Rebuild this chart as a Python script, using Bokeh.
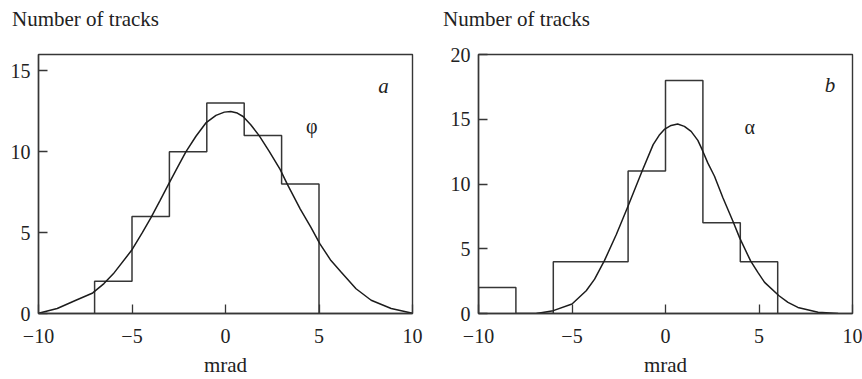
from bokeh.plotting import figure
from bokeh.layouts import row, column
from bokeh.models import Label, FixedTicker, Range1d
from bokeh.embed import file_html
from bokeh.resources import INLINE

# ---------------- data ----------------
x_ticks = [-10, -5, 0, 5, 10]
x_tick_labels = ["\u221210", "\u22125", "0", "5", "10"]

# panel a (phi)
a_y_ticks = [0, 5, 10, 15]
a_edges = [-7, -5, -3, -1, 1, 3, 5]
a_counts = [2, 6, 10, 13, 11, 8]
a_curve_x = [-10, -9, -8, -7.1, -6.5, -6, -5.03, -4.44, -4, -3.51, -3.05, -2.56, -2.12, -1.58,
             -1.05, -0.51, -0.06, 0.28, 0.63, 0.94, 1.35, 1.8, 2.33, 2.92, 3.31, 4.0, 4.57,
             5.05, 5.64, 6.18, 6.98, 7.79, 8.86, 10]
a_curve_y = [0.02, 0.31, 0.82, 1.27, 1.85, 2.45, 3.89, 5.01, 5.89, 6.96, 7.98, 9.04, 9.98, 10.95,
             11.77, 12.24, 12.44, 12.48, 12.38, 12.17, 11.66, 10.99, 10.03, 8.9, 7.98, 6.45, 5.32,
             4.3, 3.27, 2.56, 1.53, 0.82, 0.31, 0.02]

# panel b (alpha)
b_y_ticks = [0, 5, 10, 15, 20]
b_edges = [-10, -8, -6, -4, -2, 0, 2, 4, 6]
b_counts = [2, 0, 4, 4, 11, 18, 7, 4]
b_curve_x = [-6.9, -6, -5, -4.24, -3.79, -3.26, -2.63, -2.27, -2.0, -1.25, -0.66, -0.34, -0.04,
             0.3, 0.65, 1.01, 1.37, 1.73, 1.96, 2.26, 2.62, 3.07, 3.6, 3.96, 4.55, 4.94, 5.3,
             6.07, 6.55, 7.08, 8.16, 9.23]
b_curve_y = [0, 0.22, 0.73, 1.76, 2.65, 4.1, 6.1, 7.35, 8.3, 11.0, 13.04, 13.76, 14.24,
             14.52, 14.63, 14.45, 14.06, 13.37, 12.65, 11.63, 10.6, 8.94, 7.14, 5.86, 4.06, 3.17, 2.4,
             1.37, 0.86, 0.47, 0.09, 0.0]

y_axis_title = "Number of tracks"

FONT = "Liberation Serif"
HIST_COLOR = "#363636"
CURVE_COLOR = "#1c1c1c"
TEXT_COLOR = "#222222"

TOTAL_W = 862
HEAD_H = 42


def step_outline(edges, counts):
    xs, ys = [edges[0]], [0]
    for i, c in enumerate(counts):
        xs += [edges[i], edges[i + 1]]
        ys += [c, c]
    xs.append(edges[-1])
    ys.append(0)
    return xs, ys


def make_panel(width, ymax, yticks, edges, counts, cx, cy, left, right,
               letter, letter_pos, sym, sym_pos):
    p = figure(width=width, height=379 - HEAD_H, x_range=Range1d(-10, 10), y_range=Range1d(0, ymax),
               output_backend="svg", toolbar_location=None,
               min_border_left=left, min_border_right=right,
               min_border_top=12, min_border_bottom=64)
    p.grid.visible = False
    p.background_fill_color = "white"
    p.border_fill_color = "white"
    p.outline_line_color = HIST_COLOR
    p.outline_line_width = 1.4

    for ax in (p.xaxis[0], p.yaxis[0]):
        ax.major_tick_in = 9
        ax.major_tick_out = 0
        ax.minor_tick_line_color = None
        ax.axis_line_color = HIST_COLOR
        ax.axis_line_width = 1.4
        ax.major_tick_line_color = HIST_COLOR
        ax.major_tick_line_width = 1.3
        ax.major_label_text_font = FONT
        ax.major_label_text_font_size = "20px"
        ax.major_label_text_color = TEXT_COLOR

    p.xaxis.ticker = FixedTicker(ticks=x_ticks)
    p.xaxis.major_label_overrides = dict(zip(x_ticks, x_tick_labels))
    p.xaxis.major_label_standoff = 15
    p.xaxis.axis_label = "mrad"
    p.xaxis.axis_label_text_font = FONT
    p.xaxis.axis_label_text_font_size = "21px"
    p.xaxis.axis_label_text_font_style = "normal"
    p.xaxis.axis_label_text_color = TEXT_COLOR
    p.xaxis.axis_label_standoff = 7

    p.yaxis.ticker = FixedTicker(ticks=yticks)
    p.yaxis.major_label_standoff = 8

    hx, hy = step_outline(edges, counts)
    p.line(hx, hy, line_color=HIST_COLOR, line_width=1.5)
    p.line(cx, cy, line_color=CURVE_COLOR, line_width=1.5)

    p.add_layout(Label(x=letter_pos[0], y=letter_pos[1], text=letter, text_font=FONT,
                       text_font_size="21px", text_font_style="italic", text_align="center",
                       text_baseline="alphabetic", text_color=TEXT_COLOR))
    p.add_layout(Label(x=sym_pos[0], y=sym_pos[1], text=sym, text_font=FONT,
                       text_font_size="20px", text_align="center",
                       text_baseline="alphabetic", text_color=TEXT_COLOR))
    return p


# heading strip holding the two "Number of tracks" captions (pixel-like ranges)
head = figure(width=TOTAL_W, height=HEAD_H, x_range=Range1d(0, TOTAL_W), y_range=Range1d(0, HEAD_H),
              output_backend="svg", toolbar_location=None, x_axis_type=None, y_axis_type=None,
              min_border=0)
head.grid.visible = False
head.outline_line_color = None
head.background_fill_color = "white"
head.border_fill_color = "white"
for hx0 in (11.5, 442.5):
    head.add_layout(Label(x=hx0, y=HEAD_H - 18, text=y_axis_title, text_font=FONT,
                          text_font_size="21px", text_align="left",
                          text_baseline="alphabetic", text_color=TEXT_COLOR))

pa = make_panel(442, 16, a_y_ticks, a_edges, a_counts, a_curve_x, a_curve_y, 38, 30,
                "a", (8.45, 14.03), "\u03c6", (4.62, 11.58))
pb = make_panel(420, 20, b_y_ticks, b_edges, b_counts, b_curve_x, b_curve_y, 36, 10,
                "b", (8.8, 17.68), "\u03b1", (4.5, 14.4))

layout = column(head, row(pa, pb))
open("out.html", "w").write(file_html(layout, INLINE))
